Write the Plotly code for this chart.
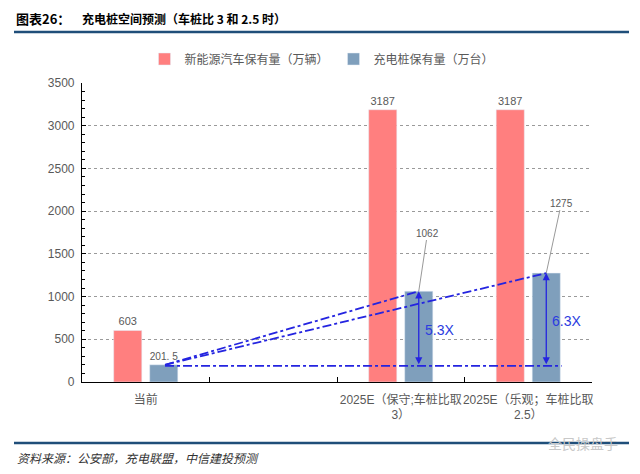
import plotly.graph_objects as go

categories = ["当前", " ", "2025E（保守;车桩比取<br>3）", "2025E（乐观；车桩比取<br>2.5）"]
ev_stock = [603, None, 3187, 3187]
charger_stock = [201.5, None, 1062, 1275]
ev_labels = ["603", "", "3187", "3187"]
charger_labels = ["201. 5", "", "", ""]
ratio_labels = ["5.3X", "6.3X"]
series_names = ["新能源汽车保有量（万辆）", "充电桩保有量（万台）"]
y_ticks = [0, 500, 1000, 1500, 2000, 2500, 3000, 3500]

RED = "#FF7F7F"
BLUE = "#7F9FBC"
LINE_BLUE = "#2424E0"
CJK = "Noto Sans CJK SC"
SANS = "Liberation Sans, Noto Sans CJK SC"

PAGE = 8  # page body offset of the figure
W, H = 640 - 2 * PAGE, 474 - 2 * PAGE
PW, PH = 510, 299
L, T = 82 - PAGE, 83 - PAGE
R = W - L - PW
B = H - T - PH


def px(x):
    return (x - PAGE - L) / PW


def py(y):
    return (T + PH - (y - PAGE)) / PH


BARGAP = 0.435
OFF = (1 - BARGAP) / 4  # centre offset of each bar in a group

fig = go.Figure()
fig.add_trace(go.Bar(
    x=categories, y=ev_stock, name=series_names[0], marker_color=RED,
    text=ev_labels, textposition="outside", cliponaxis=False,
    textfont=dict(family=SANS, size=11, color="#595959"),
))
fig.add_trace(go.Bar(
    x=categories, y=charger_stock, name=series_names[1], marker_color=BLUE,
    text=charger_labels, textposition="outside", cliponaxis=False,
    textfont=dict(family=SANS, size=11, color="#595959"),
))

shapes = []
start_x = 0 + OFF + 0.01
shapes.append(dict(type="line", xref="x", yref="y", x0=start_x, y0=charger_stock[0],
                   x1=2 + OFF, y1=charger_stock[2],
                   line=dict(color=LINE_BLUE, width=1.8, dash="dashdot")))
shapes.append(dict(type="line", xref="x", yref="y", x0=start_x, y0=charger_stock[0],
                   x1=3 + OFF, y1=charger_stock[3],
                   line=dict(color=LINE_BLUE, width=1.8, dash="dashdot")))
shapes.append(dict(type="line", xref="x", yref="y", x0=start_x, y0=charger_stock[0] - 12,
                   x1=3 + OFF + 0.12, y1=charger_stock[0] - 12,
                   line=dict(color=LINE_BLUE, width=1.8, dash="dashdot")))
shapes.append(dict(type="line", xref="paper", yref="paper", x0=px(14), x1=px(629), y0=py(32), y1=py(32),
                   line=dict(color="#1F4E79", width=2.5)))
shapes.append(dict(type="line", xref="paper", yref="paper", x0=px(14), x1=px(629), y0=py(443), y1=py(443),
                   line=dict(color="#1F4E79", width=2.5)))

annotations = []
for i, idx in enumerate([2, 3]):
    xc = idx + OFF
    annotations.append(dict(x=xc, y=charger_stock[idx], ax=xc, ay=charger_stock[0] - 12,
                            xref="x", yref="y", axref="x", ayref="y", text="",
                            showarrow=True, arrowhead=2, arrowside="end+start",
                            arrowsize=1.1, arrowwidth=1.3, arrowcolor=LINE_BLUE, standoff=0,
                            startstandoff=0))
    annotations.append(dict(x=idx + OFF + 0.16, y=(charger_stock[idx] + charger_stock[0]) / 2 - 20,
                            xref="x", yref="y", text=ratio_labels[i], showarrow=False,
                            font=dict(family=SANS, size=14, color="#2B3BE0")))
label_pos = {2: (2.21, 1744), 3: (3.26, 2095)}
for idx, (lx, ly) in label_pos.items():
    annotations.append(dict(x=idx + OFF, y=charger_stock[idx], ax=lx, ay=ly,
                            xref="x", yref="y", axref="x", ayref="y",
                            text=str(charger_stock[idx]), showarrow=True, arrowhead=0,
                            arrowwidth=1, arrowcolor="#999999", standoff=0,
                            font=dict(family=SANS, size=10, color="#595959")))
annotations.append(dict(xref="paper", yref="paper", x=px(15), y=py(PAGE), xanchor="left", yanchor="top",
                        text="<b>图表26：</b>", showarrow=False, borderpad=0,
                        font=dict(family=CJK, size=13, color="#000000")))
annotations.append(dict(xref="paper", yref="paper", x=px(81), y=py(PAGE + 0.5), xanchor="left", yanchor="top",
                        text="<b>充电桩空间预测（车桩比 3 和 2.5 时）</b>", showarrow=False, borderpad=0,
                        font=dict(family=CJK, size=12, color="#000000")))
annotations.append(dict(xref="paper", yref="paper", x=px(15), y=py(457), xanchor="left", yanchor="middle",
                        text="<i>资料来源：公安部，充电联盟，中信建投预测</i>", showarrow=False,
                        font=dict(family=CJK, size=12, color="#333333")))
annotations.append(dict(xref="paper", yref="paper", x=px(620), y=py(443), xanchor="right", yanchor="middle",
                        text="全民操盘手", showarrow=False,
                        font=dict(family=CJK, size=14, color="#C8C8C8")))

fig.update_layout(
    width=W, height=H,
    margin=dict(l=L, r=R, t=T, b=B, autoexpand=False),
    paper_bgcolor="white", plot_bgcolor="white",
    barmode="group", bargap=BARGAP, bargroupgap=0.22,
    showlegend=True,
    legend=dict(orientation="h", x=px(322), xanchor="center", y=py(59), yanchor="middle",
                font=dict(family=CJK, size=12, color="#595959"), itemwidth=30,
                bgcolor="rgba(0,0,0,0)"),
    shapes=shapes, annotations=annotations,
    font=dict(family=SANS, size=12, color="#595959"),
)
fig.update_yaxes(range=[0, 3500], tickvals=y_ticks, showgrid=True, gridcolor="#9A9A9A",
                 griddash="dot", gridwidth=1, showline=True, linecolor="black", linewidth=1.2,
                 ticks="inside", ticklen=4, tickcolor="black", automargin=False,
                 ticklabelstandoff=4,
                 minor=dict(dtick=100, ticks="inside", ticklen=3, tickcolor="black", showgrid=False),
                 tickfont=dict(family=SANS, size=12, color="#595959"), zeroline=False)
fig.update_xaxes(showline=True, linecolor="black", linewidth=1.2, ticks="inside", ticklen=5,
                 tickcolor="black", tickson="boundaries", showgrid=False, tickangle=0,
                 automargin=False, ticklabelstandoff=6,
                 tickfont=dict(family=SANS, size=12, color="#595959"))

fig.write_html("out.html")
